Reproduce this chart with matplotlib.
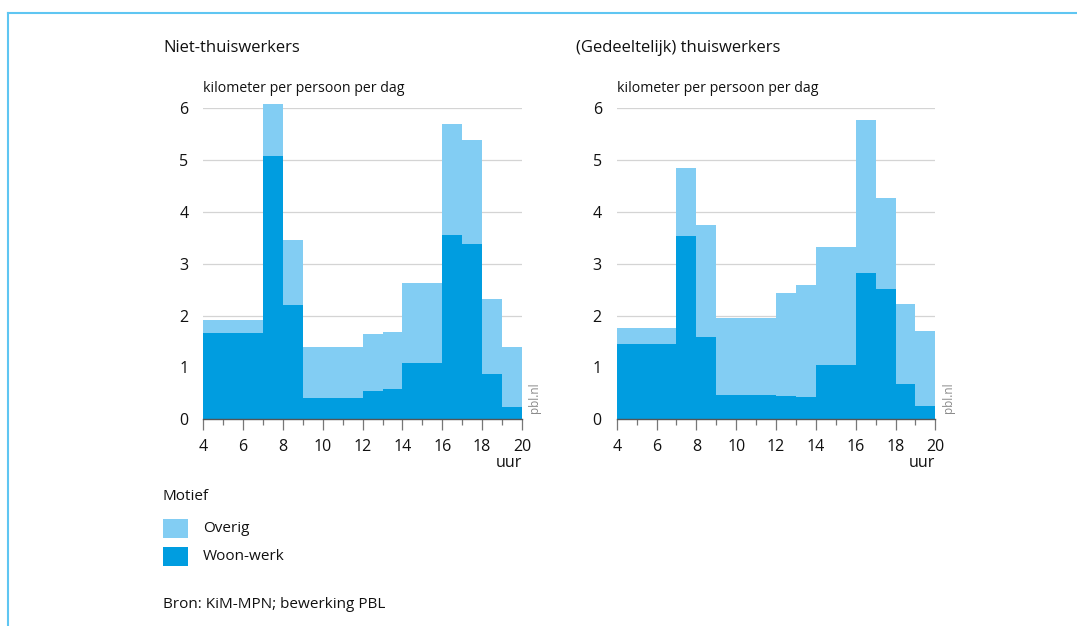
import matplotlib.pyplot as plt
from matplotlib.patches import Rectangle
from matplotlib.lines import Line2D
import numpy as np

# uurgrenzen van de staven (4-7 en 9-12 zijn samengenomen, 14-16 ook)
edges = [4, 7, 8, 9, 12, 13, 14, 16, 17, 18, 19, 20]

# Niet-thuiswerkers
niet_woonwerk = [1.66, 5.08, 2.21, 0.42, 0.55, 0.58, 1.09, 3.56, 3.38, 0.87, 0.23]
niet_totaal = [1.92, 6.08, 3.46, 1.39, 1.65, 1.69, 2.62, 5.69, 5.38, 2.33, 1.40]

# (Gedeeltelijk) thuiswerkers
thuis_woonwerk = [1.45, 3.54, 1.59, 0.47, 0.44, 0.43, 1.05, 2.83, 2.51, 0.68, 0.26]
thuis_totaal = [1.77, 4.84, 3.74, 1.95, 2.43, 2.59, 3.32, 5.77, 4.26, 2.22, 1.70]

titles = ["Niet-thuiswerkers", "(Gedeeltelijk) thuiswerkers"]
legend_labels = ["Overig", "Woon-werk"]

light = "#82cdf3"
dark = "#009de0"
grid_c = "#d4d4d4"
txt = "#111111"

plt.rcParams['font.family'] = ['Open Sans', 'DejaVu Sans']

W, H = 1077, 626
fig = plt.figure(figsize=(W / 100, H / 100), dpi=100)

def fx(px):
    return px / W

def fy(py):
    return 1 - py / H

ax_left_px = [203.3, 616.7]
ax_w_px = 318.7
y0_px, y6_px = 419.3, 108.3

datasets = [(niet_woonwerk, niet_totaal), (thuis_woonwerk, thuis_totaal)]

for i, (ww, tot) in enumerate(datasets):
    ax = fig.add_axes([fx(ax_left_px[i]), fy(y0_px), fx(ax_w_px), (y0_px - y6_px) / H])
    left = np.array(edges[:-1])
    widths = np.diff(edges)
    ww = np.array(ww)
    overig = np.array(tot) - ww
    ax.bar(left, ww, width=widths, align='edge', color=dark, linewidth=0, clip_on=False, zorder=3)
    ax.bar(left, overig, bottom=ww, width=widths, align='edge', color=light, linewidth=0,
           clip_on=False, zorder=3)
    ax.set_xlim(4, 20)
    ax.set_ylim(0, 6)
    for s in ['top', 'right', 'left']:
        ax.spines[s].set_visible(False)
    ax.spines['bottom'].set_color('#555555')
    ax.spines['bottom'].set_linewidth(1.0)
    ax.spines['bottom'].set_zorder(4)
    ax.set_yticks(range(0, 7))
    ax.yaxis.grid(True, color=grid_c, linewidth=0.9, zorder=0)
    ax.set_axisbelow(True)
    ax.tick_params(axis='y', length=0, pad=14, labelsize=11.5, labelcolor=txt)
    ax.set_xticks(range(4, 21, 2))
    ax.set_xticks(range(5, 20, 2), minor=True)
    ax.tick_params(axis='x', which='major', length=8, width=0.9, color='#777777', pad=6,
                   labelsize=11.5, labelcolor=txt)
    ax.tick_params(axis='x', which='minor', length=4, width=0.9, color='#777777')
    for lab in ax.get_yticklabels():
        lab.set_horizontalalignment('center')

    right_px = ax_left_px[i] + ax_w_px
    fig.text(fx(ax_left_px[i]), fy(89), "kilometer per persoon per dag", fontsize=10.2,
             color=txt, ha='left', va='center')
    fig.text(fx(ax_left_px[i] - 40 if i == 0 else ax_left_px[i] - 41), fy(48), titles[i],
             fontsize=12, color=txt, ha='left', va='center')
    fig.text(fx(right_px), fy(463), "uur", fontsize=11.5, color=txt, ha='right', va='center')
    fig.text(fx(right_px + 13), fy(413), "pbl.nl", fontsize=8.5, color='#8a8a8a',
             rotation=90, ha='center', va='bottom')

# legenda
fig.text(fx(163), fy(497), "Motief", fontsize=11, color=txt, ha='left', va='center')
for j, (lab, col) in enumerate(zip(legend_labels, [light, dark])):
    top = 519 + j * 28
    fig.add_artist(Rectangle((fx(163), fy(top + 19)), fx(25), 19 / H, facecolor=col,
                             edgecolor='none', transform=fig.transFigure))
    fig.text(fx(203), fy(top + 9), lab, fontsize=11, color=txt, ha='left', va='center')

fig.text(fx(163), fy(604), "Bron: KiM-MPN; bewerking PBL", fontsize=11, color=txt,
         ha='left', va='center')

# kader
frame_c = "#5fc6f2"
fig.add_artist(Line2D([fx(8), 1], [fy(13), fy(13)], color=frame_c, linewidth=1.5,
                      transform=fig.transFigure))
fig.add_artist(Line2D([fx(8), fx(8)], [fy(13), 0], color=frame_c, linewidth=1.5,
                      transform=fig.transFigure))

fig.savefig("out.png", dpi=100)
